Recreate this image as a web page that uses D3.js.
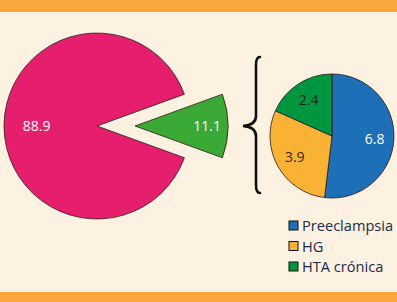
<!DOCTYPE html>
<html>
<head>
<meta charset="utf-8">
<script src="https://cdn.jsdelivr.net/npm/d3@7"></script>
<style>
  body { margin: 0; background: #fdf1e2; }
  svg { display: block; }
  text { font-family: "Open Sans", "DejaVu Sans", sans-serif; }
</style>
</head>
<body>
<div id="chart"></div>
<script>
// main split: 88.9 vs 11.1
var mainLabels = ["Resto", "Hipertensión"];
var mainValues = [88.9, 11.1];
var mainColors = ["#e61e6e", "#3aa935"];

// breakdown of the 11.1
var subLabels = ["Preeclampsia", "HG", "HTA crónica"];
var subValues = [6.8, 3.9, 2.4];
var subColors = ["#1d70b7", "#f9b234", "#009640"];
var subTextColors = ["#ffffff", "#3a2a10", "#10251a"];

var width = 397, height = 302;

var svg = d3.select("#chart").append("svg")
    .attr("width", width)
    .attr("height", height);

// background + orange bands
svg.append("rect").attr("width", width).attr("height", height).attr("fill", "#fdf1e2");
svg.append("rect").attr("width", width).attr("height", 12).attr("fill", "#f8a73d");
svg.append("rect").attr("y", 292).attr("width", width).attr("height", 10).attr("fill", "#f8a73d");

// ---- big pie ----
var bigR = 93;
var bigCx = 97, bigCy = 126;
var fracSmall = mainValues[1] / d3.sum(mainValues);

var bigPie = d3.pie()
    .sort(null)
    .startAngle(Math.PI / 2 + fracSmall * Math.PI)
    .endAngle(Math.PI / 2 + fracSmall * Math.PI + 2 * Math.PI);

var bigArc = d3.arc().innerRadius(0).outerRadius(bigR);
var explode = 38;

var big = svg.append("g").attr("transform", "translate(" + bigCx + "," + bigCy + ")");

var bigSlices = big.selectAll("g.slice")
    .data(bigPie(mainValues))
    .enter().append("g")
    .attr("class", "slice")
    .attr("transform", function(d, i) {
      if (i == 0) return null;
      var a = (d.startAngle + d.endAngle) / 2;
      return "translate(" + (Math.sin(a) * explode) + "," + (-Math.cos(a) * explode) + ")";
    });

bigSlices.append("path")
    .attr("d", bigArc)
    .attr("fill", function(d, i) { return mainColors[i]; })
    .attr("stroke", "#2b1a1a")
    .attr("stroke-width", 0.8);

var bigLabelArc = [d3.arc().innerRadius(0).outerRadius(bigR * 1.3),
                   d3.arc().innerRadius(0).outerRadius(bigR * 1.55)];

bigSlices.append("text")
    .attr("transform", function(d, i) { return "translate(" + bigLabelArc[i].centroid(d) + ")"; })
    .attr("text-anchor", "middle")
    .attr("dy", "0.36em")
    .attr("fill", "#ffffff")
    .style("font-size", "14px")
    .text(function(d) { return d3.format(".1f")(d.data); });

// ---- brace ----
var bx = 257, by0 = 57, by1 = 193, bmid = 126, btip = 243;
var brace = d3.path();
brace.moveTo(bx + 3, by0);
brace.quadraticCurveTo(bx - 1, by0, bx - 1, by0 + 8);
brace.lineTo(bx - 1, bmid - 10);
brace.quadraticCurveTo(bx - 1, bmid - 1, btip, bmid);
brace.quadraticCurveTo(bx - 1, bmid + 1, bx - 1, bmid + 10);
brace.lineTo(bx - 1, by1 - 8);
brace.quadraticCurveTo(bx - 1, by1, bx + 3, by1);
svg.append("path")
    .attr("d", brace.toString())
    .attr("fill", "none")
    .attr("stroke", "#111")
    .attr("stroke-width", 2.6)
    .attr("stroke-linecap", "round");

// ---- small pie ----
var smallR = 62;
var smallCx = 332, smallCy = 136;
var smallPie = d3.pie().sort(null);
var smallArc = d3.arc().innerRadius(0).outerRadius(smallR);
var smallLabelArc = d3.arc().innerRadius(0).outerRadius(smallR * 1.38);

var small = svg.append("g").attr("transform", "translate(" + smallCx + "," + smallCy + ")");

var smallSlices = small.selectAll("g.slice")
    .data(smallPie(subValues))
    .enter().append("g")
    .attr("class", "slice");

smallSlices.append("path")
    .attr("d", smallArc)
    .attr("fill", function(d, i) { return subColors[i]; })
    .attr("stroke", "#2b1a1a")
    .attr("stroke-width", 0.8);

smallSlices.append("text")
    .attr("transform", function(d) { return "translate(" + smallLabelArc.centroid(d) + ")"; })
    .attr("text-anchor", "middle")
    .attr("dy", "0.36em")
    .attr("fill", function(d, i) { return subTextColors[i]; })
    .style("font-size", "14px")
    .text(function(d) { return d3.format(".1f")(d.data); });

// ---- legend ----
var legend = svg.append("g").attr("transform", "translate(289,226)");
var items = legend.selectAll("g")
    .data(subLabels)
    .enter().append("g")
    .attr("transform", function(d, i) { return "translate(0," + (i * 20.5) + ")"; });

items.append("rect")
    .attr("x", 0).attr("y", -5)
    .attr("width", 9).attr("height", 9)
    .attr("fill", function(d, i) { return subColors[i]; })
    .attr("stroke", "#111")
    .attr("stroke-width", 1);

items.append("text")
    .attr("x", 13)
    .attr("dy", "0.36em")
    .attr("fill", "#1b2a4a")
    .style("font-size", "14.6px")
    .text(function(d) { return d; });
</script>
</body>
</html>
